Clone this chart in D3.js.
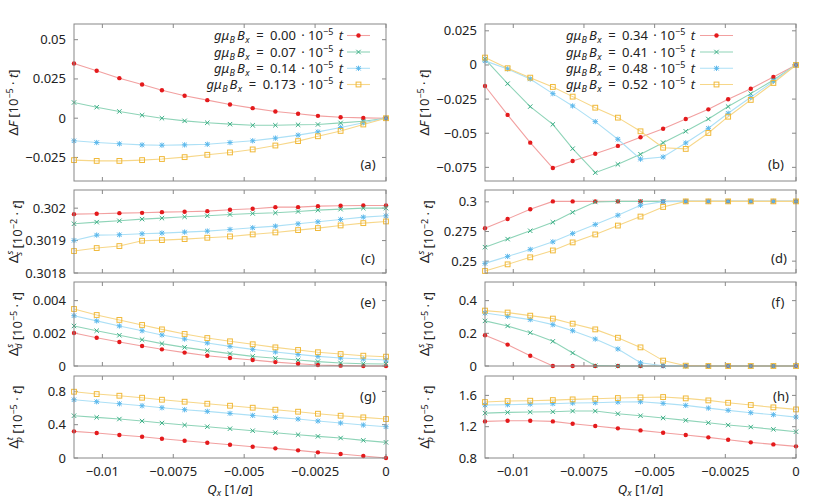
<!DOCTYPE html>
<html><head><meta charset="utf-8">
<script src="https://cdn.jsdelivr.net/npm/d3@7/dist/d3.min.js"></script>
<style>
body{margin:0;background:#fff;}
</style></head>
<body><svg id="c" width="830" height="498"></svg>
<script>
// ---- data ----
const Qx = [-0.0110,-0.0102,-0.0094,-0.0086,-0.0079,-0.0071,-0.0063,-0.0055,-0.0047,-0.0039,-0.0031,-0.0024,-0.0016,-0.0008,0];
const xTicks = [-0.01,-0.0075,-0.005,-0.0025,0];
const xTickLabels = ["−0.01","−0.0075","−0.005","−0.0025","0"];
const fieldsLeft = ["0.00","0.07","0.14","0.173"];
const fieldsRight = ["0.34","0.41","0.48","0.52"];

// (a) ΔF, left fields
const dF_a0 = [0.0348,0.0302,0.0255,0.0215,0.0178,0.0143,0.0115,0.0087,0.0064,0.0043,0.0028,0.0015,0.0006,0.0002,0];
const dF_a1 = [0.0100,0.0070,0.0043,0.0019,0.0000,-0.0017,-0.0029,-0.0038,-0.0045,-0.0045,-0.0042,-0.0040,-0.0030,-0.0019,0];
const dF_a2 = [-0.0144,-0.0155,-0.0163,-0.0170,-0.0172,-0.0170,-0.0166,-0.0155,-0.0144,-0.0127,-0.0108,-0.0087,-0.0059,-0.0029,0];
const dF_a3 = [-0.0267,-0.0272,-0.0272,-0.0267,-0.0260,-0.0248,-0.0233,-0.0218,-0.0199,-0.0174,-0.0146,-0.0115,-0.0081,-0.0040,0];
// (b) ΔF, right fields
const dF_b0 = [-0.0154,-0.0366,-0.0569,-0.0755,-0.0703,-0.0650,-0.0593,-0.0530,-0.0467,-0.0396,-0.0325,-0.0251,-0.0174,-0.0088,0];
const dF_b1 = [0.0042,-0.0137,-0.0305,-0.0435,-0.0613,-0.0789,-0.0728,-0.0654,-0.0569,-0.0486,-0.0396,-0.0305,-0.0210,-0.0110,0];
const dF_b2 = [0.0030,-0.0029,-0.0103,-0.0210,-0.0300,-0.0415,-0.0544,-0.0690,-0.0674,-0.0571,-0.0464,-0.0354,-0.0237,-0.0119,0];
const dF_b3 = [0.0054,-0.0024,-0.0093,-0.0161,-0.0232,-0.0313,-0.0386,-0.0486,-0.0606,-0.0615,-0.0498,-0.0379,-0.0256,-0.0132,0];
// (c) Δ_s^s, left
const ds_c0 = [0.3019815,0.3019826,0.3019846,0.3019856,0.3019877,0.3019887,0.3019908,0.3019949,0.3019980,0.3020031,0.3020031,0.3020062,0.3020072,0.3020082,0.3020082];
const ds_c1 = [0.3019518,0.3019569,0.3019610,0.3019662,0.3019692,0.3019733,0.3019764,0.3019805,0.3019836,0.3019856,0.3019897,0.3019938,0.3019969,0.3020000,0.3020000];
const ds_c2 = [0.3019005,0.3019169,0.3019179,0.3019210,0.3019231,0.3019262,0.3019292,0.3019344,0.3019395,0.3019446,0.3019518,0.3019579,0.3019651,0.3019723,0.3019764];
const ds_c3 = [0.3018677,0.3018769,0.3018831,0.3018995,0.3019015,0.3019046,0.3019087,0.3019128,0.3019190,0.3019251,0.3019323,0.3019385,0.3019467,0.3019538,0.3019590];
// (d) Δ_s^s, right
const ds_d0 = [0.2778,0.2856,0.2938,0.3004,0.3004,0.3004,0.3004,0.3004,0.3004,0.3004,0.3004,0.3004,0.3004,0.3004,0.3004];
const ds_d1 = [0.2618,0.2686,0.2756,0.2828,0.2912,0.2999,0.3004,0.3004,0.3004,0.3004,0.3004,0.3004,0.3004,0.3004,0.3004];
const ds_d2 = [0.2481,0.2540,0.2599,0.2663,0.2733,0.2809,0.2887,0.2971,0.3002,0.3004,0.3004,0.3004,0.3004,0.3004,0.3004];
const ds_d3 = [0.2417,0.2473,0.2532,0.2590,0.2658,0.2725,0.2800,0.2876,0.2957,0.3004,0.3004,0.3004,0.3004,0.3004,0.3004];
// (e) Δ_d^s, left
const dd_e0 = [0.00202,0.00173,0.00147,0.00122,0.00102,0.00082,0.00063,0.00049,0.00037,0.00024,0.00014,0.00006,0.00002,0,0];
const dd_e1 = [0.00245,0.00216,0.00188,0.00161,0.00137,0.00114,0.00094,0.00076,0.00059,0.00047,0.00037,0.00027,0.00018,0.00014,0.00012];
const dd_e2 = [0.00308,0.00276,0.00245,0.00216,0.00190,0.00165,0.00141,0.00120,0.00102,0.00086,0.00071,0.00059,0.00049,0.00043,0.00037];
const dd_e3 = [0.00349,0.00312,0.00282,0.00251,0.00224,0.00196,0.00171,0.00151,0.00133,0.00114,0.00098,0.00084,0.00073,0.00063,0.00057];
// (f) Δ_d^s, right
const dd_f0 = [0.188,0.131,0.063,0,0,0,0,0,0,0,0,0,0,0,0];
const dd_f1 = [0.276,0.245,0.204,0.151,0.080,0.002,0,0,0,0,0,0,0,0,0];
const dd_f2 = [0.324,0.304,0.284,0.253,0.216,0.165,0.104,0.020,0.002,0,0,0,0,0,0];
const dd_f3 = [0.339,0.327,0.308,0.290,0.259,0.224,0.173,0.114,0.033,0.002,0,0,0,0,0];
// (g) Δ_p^t, left
const dp_g0 = [0.320,0.300,0.276,0.256,0.232,0.208,0.184,0.160,0.136,0.116,0.092,0.068,0.048,0.024,0];
const dp_g1 = [0.508,0.488,0.468,0.444,0.420,0.396,0.376,0.352,0.328,0.304,0.280,0.260,0.240,0.212,0.188];
const dp_g2 = [0.700,0.676,0.652,0.628,0.604,0.580,0.560,0.536,0.512,0.488,0.468,0.444,0.420,0.396,0.376];
const dp_g3 = [0.796,0.768,0.748,0.724,0.700,0.676,0.652,0.628,0.604,0.580,0.556,0.532,0.508,0.488,0.468];
// (h) Δ_p^t, right
const dp_h0 = [1.268,1.277,1.277,1.268,1.238,1.209,1.179,1.153,1.123,1.094,1.064,1.034,1.000,0.974,0.949];
const dp_h1 = [1.374,1.383,1.387,1.391,1.400,1.400,1.366,1.340,1.311,1.281,1.251,1.221,1.196,1.166,1.136];
const dp_h2 = [1.477,1.481,1.489,1.494,1.502,1.506,1.515,1.519,1.498,1.472,1.438,1.409,1.379,1.353,1.323];
const dp_h3 = [1.515,1.528,1.532,1.540,1.549,1.557,1.566,1.574,1.579,1.562,1.536,1.506,1.477,1.447,1.421];

const yTicks_a = [-0.025,0,0.025,0.05], yLab_a = ["−0.025","0","0.025","0.05"];
const yTicks_b = [-0.075,-0.05,-0.025,0,0.025], yLab_b = ["−0.075","−0.05","−0.025","0","0.025"];
const yTicks_c = [0.3018,0.3019,0.302], yLab_c = ["0.3018","0.3019","0.302"];
const yTicks_d = [0.25,0.275,0.3], yLab_d = ["0.25","0.275","0.3"];
const yTicks_e = [0,0.002,0.004], yLab_e = ["0","0.002","0.004"];
const yTicks_f = [0,0.2,0.4], yLab_f = ["0","0.2","0.4"];
const yTicks_g = [0,0.4,0.8], yLab_g = ["0","0.4","0.8"];
const yTicks_h = [0.8,1.2,1.6], yLab_h = ["0.8","1.2","1.6"];

// ---- styles ----
const markerCol = ["#e41a1c","#3aae85","#5bb8ec","#f0b93a"];
const lineCol   = ["#f2a0a0","#8fd4b8","#ade0f6","#f7d789"];
const shapes = ["circle","cross","star","square"];
const FONT = "Noto Sans";
const FS = 13;
const FSS = 9;

const svg = d3.select("#c");
const cols = [[74,386],[485,796]];
const rows = [[24,181],[190,273],[282,366],[376,458]];

const panels = [
 {id:"a",c:0,r:0,dom:[-0.04,0.06],series:[dF_a0,dF_a1,dF_a2,dF_a3],yt:yTicks_a,yl:yLab_a,ylabel:"F",legend:fieldsLeft,lab:[368,169]},
 {id:"b",c:1,r:0,dom:[-0.085,0.03],series:[dF_b0,dF_b1,dF_b2,dF_b3],yt:yTicks_b,yl:yLab_b,ylabel:"F",legend:fieldsRight,lab:[776,169]},
 {id:"c",c:0,r:1,dom:[0.3018,0.302056],series:[ds_c0,ds_c1,ds_c2,ds_c3],yt:yTicks_c,yl:yLab_c,ylabel:"ss",exp:"−2",lab:[368,263]},
 {id:"d",c:1,r:1,dom:[0.24,0.31],series:[ds_d0,ds_d1,ds_d2,ds_d3],yt:yTicks_d,yl:yLab_d,ylabel:"ss",exp:"−2",lab:[779,263]},
 {id:"e",c:0,r:2,dom:[0,0.00514],series:[dd_e0,dd_e1,dd_e2,dd_e3],yt:yTicks_e,yl:yLab_e,ylabel:"ds",lab:[368,307]},
 {id:"f",c:1,r:2,dom:[0,0.514],series:[dd_f0,dd_f1,dd_f2,dd_f3],yt:yTicks_f,yl:yLab_f,ylabel:"ds",lab:[778,307]},
 {id:"g",c:0,r:3,dom:[0,0.985],series:[dp_g0,dp_g1,dp_g2,dp_g3],yt:yTicks_g,yl:yLab_g,ylabel:"pt",lab:[368,401],xlab:true},
 {id:"h",c:1,r:3,dom:[0.8,1.848],series:[dp_h0,dp_h1,dp_h2,dp_h3],yt:yTicks_h,yl:yLab_h,ylabel:"pt",lab:[781,401],xlab:true}
];

function txt(g){ return g.append("text").attr("font-family",FONT).attr("fill","#222"); }

function drawMarker(g, shape, x, y, col){
  if(shape==="circle"){
    g.append("circle").attr("cx",x).attr("cy",y).attr("r",2.2).attr("fill",col);
  } else if(shape==="cross"){
    const s=2.2;
    g.append("path").attr("d",`M${x-s},${y-s}L${x+s},${y+s}M${x-s},${y+s}L${x+s},${y-s}`).attr("stroke",col).attr("stroke-width",1);
  } else if(shape==="star"){
    const s=2.2;
    g.append("path").attr("d",`M${x-s},${y-s}L${x+s},${y+s}M${x-s},${y+s}L${x+s},${y-s}M${x-s*1.2},${y}L${x+s*1.2},${y}M${x},${y-s*1.2}L${x},${y+s*1.2}`).attr("stroke",col).attr("stroke-width",1);
  } else {
    const s=2.4;
    g.append("rect").attr("x",x-s).attr("y",y-s).attr("width",2*s).attr("height",2*s).attr("fill","none").attr("stroke",col).attr("stroke-width",1);
  }
}

function yLabel(g, x, y, kind, exp){
  const t = txt(g).attr("transform",`translate(${x},${y}) rotate(-90)`).attr("text-anchor","middle").attr("font-size",FS);
  t.append("tspan").text("Δ");
  if(kind==="F"){ t.append("tspan").attr("font-style","italic").text("F"); }
  else {
    const sub = kind[0], sup = kind[1];
    t.append("tspan").attr("font-size",FSS).attr("font-style","italic").attr("dy",-5).text(sup);
    t.append("tspan").attr("font-size",FSS).attr("font-style","italic").attr("dx",-5).attr("dy",9).text(sub);
    t.append("tspan").attr("dy",-4).text("");
  }
  t.append("tspan").text(" [10");
  t.append("tspan").attr("font-size",FSS).attr("dy",-5).text(exp||"−5");
  t.append("tspan").attr("dy",5).text(" · ");
  t.append("tspan").attr("font-style","italic").text("t");
  t.append("tspan").text("]");
}

panels.forEach(p=>{
  const [x0,x1]=cols[p.c], [y0,y1]=rows[p.r];
  const x = d3.scaleLinear().domain([-0.011,0]).range([x0,x1]);
  const y = d3.scaleLinear().domain(p.dom).range([y1,y0]);
  const g = svg.append("g");
  const tk = 4;
  xTicks.forEach(v=>{
    g.append("line").attr("x1",x(v)).attr("x2",x(v)).attr("y1",y1).attr("y2",y1-tk).attr("stroke","#888");
    g.append("line").attr("x1",x(v)).attr("x2",x(v)).attr("y1",y0).attr("y2",y0+tk).attr("stroke","#888");
  });
  p.yt.forEach((v,i)=>{
    g.append("line").attr("x1",x0).attr("x2",x0+tk).attr("y1",y(v)).attr("y2",y(v)).attr("stroke","#888");
    g.append("line").attr("x1",x1).attr("x2",x1-tk).attr("y1",y(v)).attr("y2",y(v)).attr("stroke","#888");
    txt(g).attr("x",x0-8).attr("y",y(v)+4.5).attr("text-anchor","end").attr("font-size",FS).text(p.yl[i]);
  });
  const line = d3.line().x((d,i)=>x(Qx[i])).y(d=>y(d));
  p.series.forEach((s,k)=>{
    g.append("path").attr("d",line(s)).attr("fill","none").attr("stroke",lineCol[k]).attr("stroke-width",1.1);
  });
  p.series.forEach((s,k)=>{
    s.forEach((v,i)=>drawMarker(g,shapes[k],x(Qx[i]),y(v),markerCol[k]));
  });
  g.append("rect").attr("x",x0).attr("y",y0).attr("width",x1-x0).attr("height",y1-y0).attr("fill","none").attr("stroke","#888").attr("stroke-width",1);
  txt(g).attr("x",p.lab[0]).attr("y",p.lab[1]).attr("text-anchor","middle").attr("font-size",FS).text(`(${p.id})`);
  yLabel(g, p.c===0?18:429, (y0+y1)/2, p.ylabel, p.exp);
  if(p.xlab){
    xTicks.forEach((v,i)=>{
      txt(g).attr("x",x(v)).attr("y",476).attr("text-anchor","middle").attr("font-size",FS).text(xTickLabels[i]);
    });
    const t = txt(g).attr("x",(x0+x1)/2).attr("y",494).attr("text-anchor","middle").attr("font-size",FS);
    t.append("tspan").attr("font-style","italic").text("Q");
    t.append("tspan").attr("font-style","italic").attr("font-size",FSS).attr("dy",2).text("x");
    t.append("tspan").attr("dy",-2).text(" [1/");
    t.append("tspan").attr("font-style","italic").text("a");
    t.append("tspan").text("]");
  }
  if(p.legend){
    const tx = p.c===0?343:695, lx0 = p.c===0?347:700, lx1 = p.c===0?370:733;
    const ly = [35.5,52,68.3,84.5];
    p.legend.forEach((lab,k)=>{
      const t = txt(g).attr("x",tx).attr("y",ly[k]+4.5).attr("text-anchor","end").attr("font-size",FS);
      t.append("tspan").attr("font-style","italic").text("gμ");
      t.append("tspan").attr("font-style","italic").attr("font-size",FSS).attr("dx",0.5).attr("dy",3).text("B");
      t.append("tspan").attr("font-style","italic").attr("dy",-3).attr("dx",2).text("B");
      t.append("tspan").attr("font-style","italic").attr("font-size",FSS).attr("dx",0.5).attr("dy",3).text("x");
      t.append("tspan").attr("dy",-3).text("\u2002=\u2002" + lab);
      t.append("tspan").attr("dx",2).text(" · 10");
      t.append("tspan").attr("font-size",FSS).attr("dy",-5).text("−5");
      t.append("tspan").attr("dy",5).attr("dx",2).attr("font-style","italic").text(" t");
      g.append("line").attr("x1",lx0).attr("x2",lx1).attr("y1",ly[k]).attr("y2",ly[k]).attr("stroke",lineCol[k]).attr("stroke-width",1.1);
      drawMarker(g,shapes[k],(lx0+lx1)/2,ly[k],markerCol[k]);
    });
  }
});
</script></body></html>
